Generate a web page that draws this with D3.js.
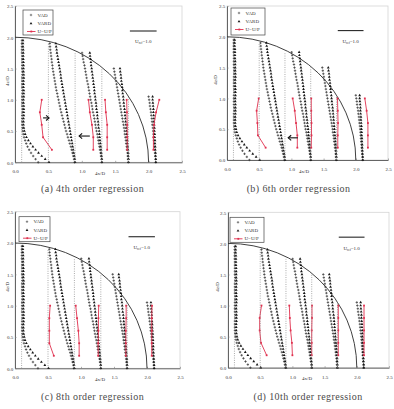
<!DOCTYPE html>
<html>
<head>
<meta charset="utf-8">
<script src="https://cdn.jsdelivr.net/npm/d3@7"></script>
<style>
  body { margin: 0; background: #fff; }
  #wrapper svg { display: block; }
  .tick text, .small { font-family: "Liberation Serif", "DejaVu Serif", serif; font-size: 5px; fill: #333; }
  .caption { font-family: "Liberation Serif", "DejaVu Serif", serif; font-size: 10px; fill: #4a4a4a; letter-spacing: 0.4px; }
</style>
</head>
<body>
<div id="wrapper"></div>
<script>
// 1. Data

// measuring heights 4z/D, shared by every profile
const heights = [0, 0.05, 0.1, 0.15, 0.2, 0.25, 0.3, 0.35, 0.4, 0.45,
    0.5, 0.55, 0.6, 0.65, 0.7, 0.75, 0.8, 0.85, 0.9, 0.95,
    1.0, 1.05, 1.1, 1.15, 1.2, 1.25, 1.3, 1.35, 1.4, 1.45,
    1.5, 1.55, 1.6, 1.65, 1.7, 1.75, 1.8, 1.85, 1.9, 1.95]

// station positions 4x/D
const stations = [0.1, 0.5, 0.9, 1.3, 1.7]

// VARD velocity U/Uref per station, from z = 0 upward
const vardU = [
    [1.02, 0.88, 0.75, 0.63, 0.52, 0.42, 0.33, 0.25, 0.18, 0.13,
     0.10, 0.08, 0.07, 0.07, 0.07, 0.08, 0.08, 0.08, 0.08, 0.07,
     0.07, 0.08, 0.08, 0.08, 0.07, 0.07, 0.07, 0.08, 0.08, 0.07,
     0.07, 0.07, 0.07, 0.06, 0.06, 0.06, 0.06, 0.05, 0.05, 0.05],
    [1.00, 0.99, 0.97, 0.95, 0.93, 0.91, 0.89, 0.87, 0.85, 0.83,
     0.81, 0.79, 0.77, 0.75, 0.73, 0.71, 0.69, 0.67, 0.65, 0.63,
     0.61, 0.59, 0.57, 0.55, 0.53, 0.51, 0.49, 0.47, 0.46, 0.44,
     0.42, 0.40, 0.38, 0.36, 0.34, 0.32, 0.31, 0.29, 0.28],
    [1.00, 1.00, 0.99, 0.98, 0.97, 0.96, 0.95, 0.93, 0.92, 0.91,
     0.90, 0.88, 0.87, 0.86, 0.84, 0.83, 0.82, 0.80, 0.79, 0.78,
     0.76, 0.75, 0.73, 0.72, 0.71, 0.69, 0.68, 0.66, 0.65, 0.63,
     0.62, 0.60, 0.59, 0.58, 0.56, 0.55],
    [1.00, 1.00, 0.99, 0.99, 0.98, 0.97, 0.96, 0.95, 0.94, 0.93,
     0.92, 0.91, 0.90, 0.89, 0.88, 0.87, 0.86, 0.85, 0.83, 0.82,
     0.81, 0.80, 0.78, 0.77, 0.76, 0.75, 0.73, 0.72, 0.71, 0.69,
     0.68],
    [1.02, 1.02, 1.01, 1.01, 1.00, 1.00, 0.99, 0.99, 0.98, 0.98,
     0.97, 0.97, 0.96, 0.95, 0.95, 0.94, 0.93, 0.93, 0.92, 0.91,
     0.90, 0.90],
]

// VAD velocity U/Uref per station, from z = 0 upward
const vadU = [
    [0.62, 0.52, 0.43, 0.35, 0.28, 0.22, 0.17, 0.13, 0.09, 0.06,
     0.04, 0.03, 0.02, 0.02, 0.02, 0.02, 0.03, 0.03, 0.02, 0.02,
     0.02, 0.02, 0.03, 0.03, 0.02, 0.02, 0.02, 0.02, 0.03, 0.03,
     0.02, 0.02, 0.02, 0.02, 0.02, 0.01, 0.01, 0.01, 0.01, 0.01],
    [0.98, 0.96, 0.93, 0.90, 0.87, 0.84, 0.80, 0.77, 0.73, 0.70,
     0.66, 0.63, 0.60, 0.57, 0.54, 0.51, 0.48, 0.45, 0.43, 0.40,
     0.38, 0.35, 0.33, 0.30, 0.28, 0.26, 0.24, 0.22, 0.20, 0.18,
     0.16, 0.15, 0.13, 0.12, 0.10, 0.09, 0.07, 0.06, 0.05],
    [1.00, 0.99, 0.97, 0.95, 0.93, 0.91, 0.89, 0.87, 0.85, 0.83,
     0.80, 0.78, 0.76, 0.74, 0.72, 0.70, 0.67, 0.65, 0.63, 0.61,
     0.58, 0.56, 0.54, 0.52, 0.50, 0.48, 0.45, 0.43, 0.41, 0.39,
     0.37, 0.35, 0.32, 0.30, 0.28, 0.26],
    [0.99, 0.98, 0.97, 0.96, 0.94, 0.93, 0.91, 0.90, 0.88, 0.86,
     0.85, 0.83, 0.81, 0.79, 0.77, 0.75, 0.73, 0.71, 0.69, 0.67,
     0.65, 0.63, 0.61, 0.59, 0.57, 0.55, 0.53, 0.51, 0.49, 0.47,
     0.45],
    [1.02, 1.01, 1.00, 0.99, 0.98, 0.97, 0.96, 0.95, 0.94, 0.93,
     0.92, 0.91, 0.89, 0.88, 0.87, 0.85, 0.84, 0.82, 0.80, 0.79,
     0.77, 0.75],
]

// regression profile U = U/P at five heights, one row per station
const redHeights = [0.2, 0.4, 0.6, 0.8, 1.0]
const redU4th = [
    [1.13, 0.80, 0.75, 0.68, 0.75],
    [1.68, 1.68, 1.63, 1.55, 1.50],
    [1.20, 1.20, 1.20, 1.15, 1.12],
    [0.95, 0.95, 0.95, 0.94, 0.93],
    [0.93, 0.93, 0.95, 1.03, 1.15],
]
const redU6th = [
    [1.25, 0.95, 0.93, 0.90, 0.98],
    [1.48, 1.48, 1.43, 1.38, 1.30],
    [1.02, 1.03, 1.03, 1.02, 1.02],
    [1.05, 1.05, 1.06, 1.05, 1.04],
    [1.22, 1.22, 1.22, 1.17, 1.10],
]
const redU8th = [
    [1.22, 1.05, 1.05, 1.05, 1.08],
    [1.18, 1.18, 1.15, 1.10, 1.05],
    [0.90, 0.90, 0.91, 0.91, 0.92],
    [0.95, 0.95, 0.95, 0.96, 0.96],
    [0.93, 0.93, 0.93, 0.93, 0.94],
]
const redU10th = [
    [1.25, 1.03, 0.98, 0.98, 1.05],
    [1.25, 1.23, 1.18, 1.15, 1.13],
    [1.00, 1.00, 1.00, 1.01, 1.01],
    [1.03, 1.03, 1.03, 1.03, 1.03],
    [1.03, 1.03, 1.03, 1.03, 1.03],
]

// annotation arrows (tail x, head x, height) in 4x/D, 4z/D
const arrows4th = [[0.42, 0.51, 0.71], [1.12, 0.96, 0.42]]
const arrows6th = [[1.10, 0.95, 0.36]]

const axisTicks = [0, 0.5, 1, 1.5, 2, 2.5]
const legendLabels = ["VAD", "VARD", "U=U/P"]
const captions = ["(a)  4th order regression", "(b)  6th order regression",
    "(c)  8th order regression", "(d)  10th order regression"]
const domeRadius = 2
const uRef = 1.0

// 2. Layout of the four panels (pixels)
const panels = [
    {left: 15, right: 182, top: 6, bottom: 162.3, red: redU4th, arrows: arrows4th,
     legend: [8, 4, 30, 25], yTitleX: 7, capX: 92.5, capY: 191.5, xTitleX: 100},
    {left: 227, right: 388, top: 6, bottom: 160, red: redU6th, arrows: arrows6th,
     legend: [4, 2, 34, 27], yTitleX: 215.5, capX: 298.5, capY: 191.5, xTitleX: 304},
    {left: 15, right: 180, top: 211.7, bottom: 368.3, red: redU8th, arrows: [],
     legend: [4, 5, 31, 25], yTitleX: 7, capX: 92.5, capY: 400, xTitleX: 100},
    {left: 228, right: 389, top: 212.3, bottom: 367.7, red: redU10th, arrows: [],
     legend: [2, 5, 34, 25], yTitleX: 217, capX: 308, capY: 400, xTitleX: 307},
]

const redColor = "#e0304e"

// velocity -> horizontal offset in 4x/D (Uref = 1.0 spans 0.4)
const uScale = d3.scaleLinear().domain([0, 1]).range([0, 0.4])

const svg = d3.select("#wrapper")
    .append("svg")
        .attr("width", 394)
        .attr("height", 409)

const plusPath = "M-1.2,0H1.2M0,-1.2V1.2"
const triangle = d3.symbol(d3.symbolTriangle).size(3.4)

function drawPanel(p, i) {
    const x = d3.scaleLinear().domain([0, 2.5]).range([p.left, p.right])
    const y = d3.scaleLinear().domain([0, 2.5]).range([p.bottom, p.top])
    const g = svg.append("g")

    // frame
    g.append("rect")
        .attr("x", p.left).attr("y", p.top)
        .attr("width", p.right - p.left).attr("height", p.bottom - p.top)
        .attr("fill", "none").attr("stroke", "#d4d4d4").attr("stroke-width", 0.8)

    const xAxis = g.append("g")
        .attr("transform", `translate(0,${p.bottom})`)
        .call(d3.axisBottom(x).tickValues(axisTicks).tickSize(-1.5).tickSizeOuter(0).tickPadding(7.6))
    const yAxis = g.append("g")
        .attr("transform", `translate(${p.left},0)`)
        .call(d3.axisLeft(y).tickValues(axisTicks).tickSize(-1.5).tickSizeOuter(0).tickPadding(5))
    yAxis.selectAll("text").attr("text-anchor", "middle").attr("dy", "0.35em")
    ;[xAxis, yAxis].forEach(a => {
        a.select(".domain").attr("stroke", "#555").attr("stroke-width", 0.9)
        a.selectAll(".tick line").attr("stroke", "#777").attr("stroke-width", 0.6)
    })

    g.append("text").attr("class", "small")
        .attr("x", p.xTitleX).attr("y", p.bottom + 12.6)
        .attr("text-anchor", "middle").text("4x/D")
    g.append("text").attr("class", "small")
        .attr("transform", `translate(${p.yTitleX},${y(1.3)}) rotate(-90)`)
        .attr("text-anchor", "middle").attr("dy", "0.35em").text("4z/D")

    // dome outline
    g.append("path")
        .attr("d", `M${x(0)},${y(domeRadius)} A${x(domeRadius) - x(0)},${y(0) - y(domeRadius)} 0 0 1 ${x(domeRadius)},${y(0)}`)
        .attr("fill", "none").attr("stroke", "#2a2a2a").attr("stroke-width", 0.9)

    stations.forEach((s, k) => {
        const top = heights[vardU[k].length - 1]
        // zero-velocity reference
        g.append("line")
            .attr("x1", x(s)).attr("x2", x(s))
            .attr("y1", y(0)).attr("y2", y(top))
            .attr("stroke", "#8a8a8a").attr("stroke-width", 0.8)
            .attr("stroke-dasharray", "0.9,1.4")

        g.append("g").selectAll("path")
            .data(vadU[k])
            .join("path")
                .attr("d", plusPath)
                .attr("transform", (d, j) => `translate(${x(s + uScale(d))},${y(heights[j])})`)
                .attr("stroke", "#3c3c3c").attr("stroke-width", 0.75).attr("fill", "none")

        g.append("g").selectAll("path")
            .data(vardU[k])
            .join("path")
                .attr("d", triangle)
                .attr("transform", (d, j) => `translate(${x(s + uScale(d))},${y(heights[j])})`)
                .attr("fill", "#161616")

        const redPts = p.red[k].map((u, j) => [x(s + uScale(u)), y(redHeights[j])])
        g.append("path")
            .attr("d", d3.line()(redPts))
            .attr("fill", "none").attr("stroke", redColor).attr("stroke-width", 0.9)
        g.append("g").selectAll("rect")
            .data(redPts)
            .join("rect")
                .attr("x", d => d[0] - 0.9).attr("y", d => d[1] - 0.9)
                .attr("width", 1.8).attr("height", 1.8)
                .attr("fill", redColor)
    })

    // arrows
    p.arrows.forEach(([x1, x2, z]) => {
        const dir = x2 > x1 ? 1 : -1
        const hx = x(x2), hy = y(z)
        g.append("line")
            .attr("x1", x(x1)).attr("x2", hx).attr("y1", hy).attr("y2", hy)
            .attr("stroke", "#111").attr("stroke-width", 1.1)
        g.append("path")
            .attr("d", `M${hx - dir * 3},${hy - 2.6} L${hx},${hy} L${hx - dir * 3},${hy + 2.6}`)
            .attr("fill", "none").attr("stroke", "#111").attr("stroke-width", 1.1)
    })

    // reference vector
    g.append("line")
        .attr("x1", x(1.72)).attr("x2", x(1.72 + uScale(uRef)))
        .attr("y1", y(2.1)).attr("y2", y(2.1))
        .attr("stroke", "#111").attr("stroke-width", 1)
    const refText = g.append("text").attr("class", "small")
        .attr("x", x(1.72 + uScale(uRef) / 2)).attr("y", y(1.93) + 1.8)
        .attr("text-anchor", "middle")
    refText.append("tspan").text("U")
    refText.append("tspan").attr("font-size", "3.4px").attr("dy", "1").text("ref")
    refText.append("tspan").attr("dy", "-1").text("=1.0")

    // legend
    const [lx, ly, lw, lh] = p.legend
    const leg = g.append("g").attr("transform", `translate(${p.left + lx},${p.top + ly})`)
    leg.append("rect")
        .attr("width", lw).attr("height", lh)
        .attr("fill", "#fff").attr("stroke", "#444").attr("stroke-width", 0.7)
    const rows = [5, 13.5, 21.5]
    leg.append("path").attr("d", plusPath)
        .attr("transform", `translate(8,${rows[0]})`)
        .attr("stroke", "#555").attr("stroke-width", 0.7)
    leg.append("path").attr("d", triangle)
        .attr("transform", `translate(8,${rows[1]})`).attr("fill", "#161616")
    leg.append("line").attr("x1", 4).attr("x2", 12.5)
        .attr("y1", rows[2]).attr("y2", rows[2])
        .attr("stroke", redColor).attr("stroke-width", 0.9)
    leg.append("rect").attr("x", 7.4).attr("y", rows[2] - 0.9)
        .attr("width", 1.8).attr("height", 1.8).attr("fill", redColor)
    leg.selectAll("text.small")
        .data(legendLabels)
        .join("text")
            .attr("class", "small")
            .attr("x", 14.5).attr("y", (d, j) => rows[j] + 1.7)
            .text(d => d)

    g.append("text").attr("class", "caption")
        .attr("x", p.capX).attr("y", p.capY)
        .attr("text-anchor", "middle")
        .text(captions[i])
}

panels.forEach(drawPanel)
</script>
</body>
</html>
